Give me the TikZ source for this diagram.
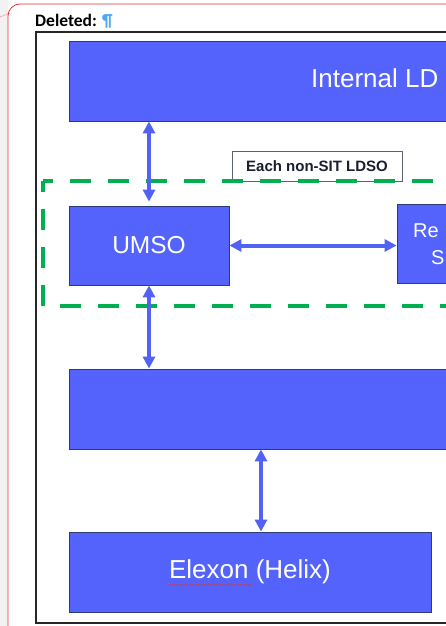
\documentclass[tikz,border=0pt]{standalone}
\usepackage{fontspec}
\setmainfont{Liberation Sans}
\newfontfamily\calibri{Carlito}
\usepackage{xcolor}
\usetikzlibrary{arrows.meta, calc, decorations.pathmorphing}
\definecolor{boxblue}{HTML}{5363FB}
\definecolor{arrblue}{HTML}{5262F2}
\definecolor{dsgreen}{HTML}{00B050}
\definecolor{boxedge}{HTML}{2F3A7A}
\definecolor{labgray}{HTML}{5A6470}
\definecolor{labtext}{HTML}{1A1F2E}
\definecolor{pilcrow}{HTML}{4FA8F2}
\definecolor{tracked}{HTML}{E0343A}
\newcommand\bigfont{\fontsize{26}{28}\selectfont}
\newcommand\tipsize{Triangle[width=12pt,length=12pt]}

\begin{document}
\begin{tikzpicture}[x=1pt, y=-1pt,
  box/.style={draw=boxedge, line width=0.8pt, fill=boxblue, text=white, inner sep=0pt, minimum height=80pt},
  boxtext/.style={anchor=base west, inner sep=0pt, text=white},
  link/.style={arrblue, line width=4pt, {\tipsize}-{\tipsize}}]

\useasboundingbox (0,0) rectangle (446,626);
\clip (0,0) rectangle (446,626);

% page and comment balloon
\fill[white] (0,0) rectangle (446,626);
\fill[gray!10] (0,0) rectangle (8,626);
\draw[tracked, densely dotted, line width=0.6pt] (0,17) -- (10,13);
\draw[tracked, line width=0.8pt, rounded corners=12pt] (600,4) -- (8,4) -- (8,640) -- (600,640);
\node[anchor=base west, inner sep=0pt, font=\calibri\bfseries\fontsize{17.5}{20}\selectfont] (del) at (35,27) {Deleted: \textcolor{pilcrow}{¶}};

% frame of the figure
\draw[black!85, line width=1.3pt] (600,32) -- (36,32) -- (36,623) -- (600,623);

% boxes
\node[box, minimum width=648pt] (ldso) at (393,81) {};
\node[boxtext, font=\bigfont] (ldsotxt) at (311,87) {Internal LD};
\node[box, minimum width=160pt, minimum height=79pt, font=\fontsize{24.5}{26}\selectfont] (umso) at (149,245.5) {UMSO};
\node[box, minimum width=150pt, minimum height=79pt] (reg) at (472,243.5) {};
\node[boxtext, font=\fontsize{20}{27}\selectfont] (regtop) at (413,237) {Re};
\node[boxtext, font=\fontsize{20}{27}\selectfont] (regbot) at (431,264) {S};
\node[box, minimum width=648pt] (hub) at (393,409) {};
\node[box, minimum width=362pt, font=\bigfont] (elexon) at (250,572) {Elexon (Helix)};
\draw[tracked, line width=0.5pt, decorate, decoration={snake, amplitude=0.6pt, segment length=3pt}] (168,585) -- (251,585);

% each non-SIT LDSO
\node[draw=labgray, fill=white, line width=0.8pt, minimum width=170pt, minimum height=30pt, inner sep=0pt,
      text=labtext, font=\bfseries\fontsize{15}{17}\selectfont] (tag) at (317,166) {Each non-SIT LDSO};
\draw[dsgreen, line width=4.5pt, dash pattern=on 21pt off 17pt, dash phase=10pt] (43,181) rectangle (640,306);

% links
\draw[link] (umso.north |- ldso.south) -- ([yshift=4pt]umso.north);
\draw[link] (umso.east) -- (umso.east -| reg.west);
\draw[link] (umso.south) -- (umso.south |- hub.north);
\draw[link] ([xshift=11pt]elexon.north |- hub.south) -- ([xshift=11pt]elexon.north);

\end{tikzpicture}
\end{document}
